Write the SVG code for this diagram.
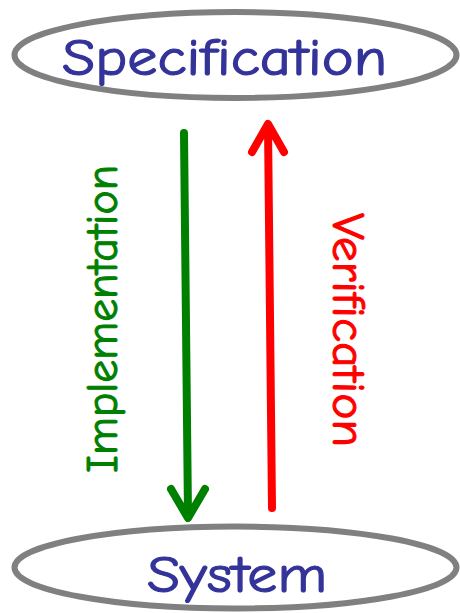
<svg xmlns="http://www.w3.org/2000/svg" width="460" height="613" viewBox="0 0 460 613">
<style>
.node ellipse{fill:#fff;stroke:#808080;stroke-width:6}
.title{font-family:"Comic Sans MS","Comic Neue","DejaVu Sans",sans-serif;fill:#333399;stroke:#333399;stroke-width:1.2}
.lbl{font-family:"Comic Sans MS","Comic Neue","DejaVu Sans",sans-serif;stroke-width:1}
.arrow{fill:none;stroke-width:8;stroke-linecap:round;stroke-linejoin:round}
</style>
<rect width="460" height="613" fill="#fff"/>
<g id="specification" class="node">
<ellipse cx="235.5" cy="55" rx="221" ry="43"/>
<text class="title" x="62" y="75" font-size="52" textLength="325" lengthAdjust="spacingAndGlyphs">Specification</text>
</g>
<g id="system" class="node">
<ellipse cx="235.5" cy="567.5" rx="221" ry="41"/>
<text class="title" x="147" y="592" font-size="53" textLength="180" lengthAdjust="spacingAndGlyphs">System</text>
</g>
<g id="connectors">
<g id="implementation">
<path class="arrow" stroke="#008000" d="M184,133 L188,516 M171,489 L188,518 L205,489"/>
<text class="lbl" fill="#008000" stroke="#008000" font-size="44" transform="translate(117,473) rotate(-90)" textLength="308" lengthAdjust="spacingAndGlyphs">Implementation</text>
</g>
<g id="verification">
<path class="arrow" stroke="#ff0000" d="M272,508 L268,126 M252,152 L268,124 L284,152"/>
<text class="lbl" fill="#ff0000" stroke="#ff0000" font-size="46" transform="translate(333,213) rotate(90)" textLength="234" lengthAdjust="spacingAndGlyphs">Verification</text>
</g>
</g>
</svg>
